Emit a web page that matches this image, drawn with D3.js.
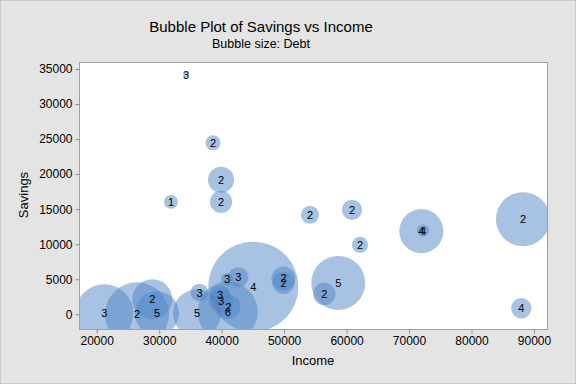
<!DOCTYPE html>
<meta charset="utf-8">
<style>
    body { margin: 0; }
    svg { font-family: "Liberation Sans", Arial, sans-serif; }
    .tick text { font-size: 12px; fill: #000; }
    .tick line { stroke: #8c8c8c; }
    .lbl { font-size: 11px; text-anchor: middle; fill: #000; }
</style>
<script src="https://d3js.org/d3.v7.min.js"></script>
<div id="chart"></div>
<script>
// values
var income  = [34300, 38620, 39900, 39900, 31890, 54140, 60870, 62150, 71970, 72240,
               88240, 87970, 58670, 56430, 49900, 49900, 45070, 42670, 40860, 36460,
               36060, 39740, 39900, 41070, 40970, 21220, 26450, 28900, 29650];
var savings = [34200, 24470, 19190, 16040, 16040, 14190, 14900, 9900, 11860, 11940,
               13570, 860, 4470, 2900, 5110, 4470, 3940, 5290, 5040, 3090,
               140, 2690, 1940, 1040, 370, 140, 0, 2140, 140];
var debt    = [200, 1400, 4200, 3000, 1200, 2000, 2500, 1600, 12000, 900,
               18000, 2600, 18000, 3100, 3600, 3000, 50000, 2500, 900, 2000,
               14200, 2500, 3600, 3600, 22200, 20800, 25300, 9900, 12000];
var labels  = [3, 2, 2, 2, 1, 2, 2, 2, 4, 4,
               2, 4, 5, 2, 2, 2, 4, 3, 3, 3,
               5, 3, 3, 2, 6, 3, 2, 2, 5];
var xTicks = [20000, 30000, 40000, 50000, 60000, 70000, 80000, 90000];
var yTicks = [0, 5000, 10000, 15000, 20000, 25000, 30000, 35000];

var width = 576, height = 384;
var pLeft = 79, pRight = 548, pTop = 62, pBottom = 329;

var svg = d3.select("#chart").append("svg")
    .attr("width", width)
    .attr("height", height);

svg.append("rect")
    .attr("x", 0.5).attr("y", 0.5)
    .attr("width", width - 1).attr("height", height - 1)
    .attr("fill", "#e4e4e4").attr("stroke", "#c8c8c8");

var x = d3.scaleLinear().domain([17167, 92245]).range([pLeft, pRight]);
var y = d3.scaleLinear().domain([-2100, 36000]).range([pBottom, pTop]);
var r = d3.scaleSqrt().domain([0, 50000]).range([0, 45]);

svg.append("rect")
    .attr("x", pLeft).attr("y", pTop)
    .attr("width", pRight - pLeft).attr("height", pBottom - pTop)
    .attr("fill", "#fff");

svg.append("clipPath").attr("id", "clip")
  .append("rect")
    .attr("x", pLeft).attr("y", pTop)
    .attr("width", pRight - pLeft).attr("height", pBottom - pTop);

var pts = income.map(function(d, i) {
    return { income: d, savings: savings[i], debt: debt[i], label: labels[i] };
});

var g = svg.append("g").attr("clip-path", "url(#clip)");

g.selectAll("circle")
    .data(pts)
    .enter().append("circle")
    .attr("cx", function(d) { return x(d.income); })
    .attr("cy", function(d) { return y(d.savings); })
    .attr("r", function(d) { return r(d.debt); })
    .attr("fill", "#4f86c6")
    .attr("fill-opacity", 0.5);

g.selectAll("text")
    .data(pts)
    .enter().append("text")
    .attr("class", "lbl")
    .attr("x", function(d) { return x(d.income); })
    .attr("y", function(d) { return y(d.savings) + 4; })
    .text(function(d) { return d.label; });

svg.append("rect")
    .attr("x", pLeft + 0.5).attr("y", pTop + 0.5)
    .attr("width", pRight - pLeft - 1).attr("height", pBottom - pTop)
    .attr("fill", "none").attr("stroke", "#a0a0a0");

svg.append("g")
    .attr("transform", "translate(0," + (pBottom + 0.5) + ")")
    .call(d3.axisBottom(x).tickValues(xTicks).tickSize(4).tickPadding(3).tickFormat(d3.format("d")))
    .call(function(a) { a.select(".domain").remove(); });

svg.append("g")
    .attr("transform", "translate(" + (pLeft + 0.5) + ",0)")
    .call(d3.axisLeft(y).tickValues(yTicks).tickSize(4).tickPadding(3).tickFormat(d3.format("d")))
    .call(function(a) { a.select(".domain").remove(); });

svg.append("text")
    .attr("x", 261).attr("y", 32)
    .attr("text-anchor", "middle")
    .style("font-size", "15px")
    .text("Bubble Plot of Savings vs Income");

svg.append("text")
    .attr("x", 261).attr("y", 48)
    .attr("text-anchor", "middle")
    .style("font-size", "12.5px")
    .text("Bubble size: Debt");

svg.append("text")
    .attr("x", 313).attr("y", 365)
    .attr("text-anchor", "middle")
    .style("font-size", "13px")
    .text("Income");

svg.append("text")
    .attr("transform", "translate(28,195) rotate(-90)")
    .attr("text-anchor", "middle")
    .style("font-size", "13px")
    .text("Savings");
</script>
